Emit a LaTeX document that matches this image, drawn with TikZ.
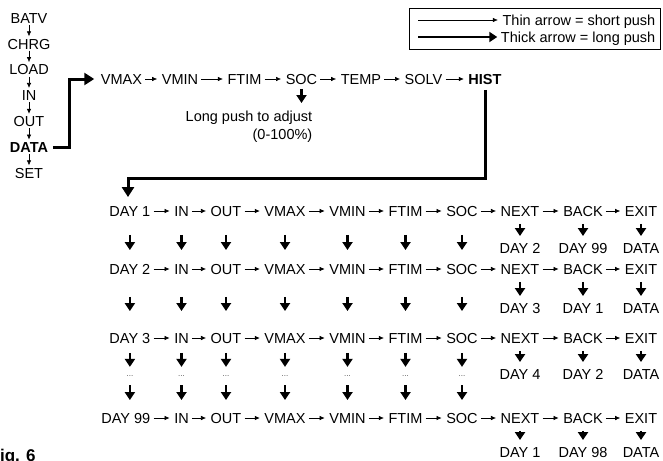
\documentclass[tikz,border=0pt]{standalone}
\usepackage{fontspec}
\setmainfont{Liberation Sans}
\usetikzlibrary{arrows.meta, positioning}

\tikzset{
  lbl/.style={inner sep=1.5pt, text height=10.5pt, text depth=0pt, font=\fontsize{14.5}{18}\selectfont},
  short/.style={-{Latex[length=5pt, width=4.5pt]}, line width=0.6pt, shorten <=1.5pt, shorten >=3pt},
  push/.style={-{Triangle[length=8pt, width=10pt]}, line width=2.6pt},
  long/.style={-{Triangle[length=10pt, width=12pt]}, line width=3pt},
}

\begin{document}
\begin{tikzpicture}[x=1pt, y=-1pt]
  \useasboundingbox (0,0) rectangle (663,460);

  % main menu
  \foreach \n/\txt [count=\i] in {batv/BATV, chrg/CHRG, load/LOAD, in/IN, out/OUT, data/\textbf{DATA}, set/SET}
    \node[lbl] (m-\n) at (29,{18+25.8*(\i-1)}) {\txt};
  \foreach \a/\b in {batv/chrg, chrg/load, load/in, in/out, out/data, data/set}
    \draw[short, shorten <=0pt, shorten >=0.5pt] (m-\a) -- (m-\b);

  % data menu
  \foreach \n/\txt/\x in {vmax/VMAX/121.5, vmin/VMIN/180, ftim/FTIM/244.5, soc/SOC/301.5, temp/TEMP/361, solv/SOLV/423.5, hist/\textbf{HIST}/485}
    \node[lbl] (\n0) at (\x,79) {\txt};
  \foreach \a/\b in {vmax/vmin, vmin/ftim, ftim/soc, soc/temp, temp/solv, solv/hist}
    \draw[short] (\a0) -- (\b0);
  \draw[long, shorten <=3pt, shorten >=5pt] (m-data.east) -- ++(20,0) |- (vmax0.west);

  \node[font=\fontsize{14.5}{18}\selectfont, inner sep=1.5pt, align=right, anchor=north east] (adjust) at (314,109) {Long push to adjust\\(0-100\%)};
  \draw[push, shorten <=3pt, shorten >=6pt] (soc0.south) -- (soc0.south |- adjust.north);

  % history rows
  \foreach \row/\y/\ty/\dy/\nx/\bk in {1/211/248/DAY 1/DAY 2/DAY 99, 2/269/308/DAY 2/DAY 3/DAY 1, 3/338/374/DAY 3/DAY 4/DAY 2, 4/418/452/DAY 99/DAY 1/DAY 98} {
    \node[lbl, anchor=east] (d\row) at (152,\y) {\dy};
    \foreach \col/\txt/\x in {in/IN/181.5, out/OUT/226, vmax/VMAX/285, vmin/VMIN/347.5, ftim/FTIM/405.5, soc/SOC/462, next/NEXT/520, back/BACK/583, exit/EXIT/641}
      \node[lbl] (\col\row) at (\x,\y) {\txt};
    \foreach \a/\b in {d/in, in/out, out/vmax, vmax/vmin, vmin/ftim, ftim/soc, soc/next, next/back, back/exit}
      \draw[short] (\a\row) -- (\b\row);
    \node[lbl] (tnext\row) at (520,\ty) {\nx};
    \node[lbl] (tback\row) at (583,\ty) {\bk};
    \node[lbl] (texit\row) at (641,\ty) {DATA};
    \foreach \col in {next, back, exit}
      \draw[push, shorten <=6pt, shorten >=5pt] (\col\row) -- (t\col\row);
  }

  \coordinate (dotline) at (0,376);
  \foreach \col in {d, in, out, vmax, vmin, ftim, soc} {
    \draw[push, shorten <=17pt, shorten >=12pt] (\col1) -- (\col2);
    \draw[push, shorten <=21pt, shorten >=20pt] (\col2) -- (\col3);
    \node[inner sep=0.5pt, text=black!70, font=\fontsize{8}{8}\selectfont] (\col-dot) at (\col3.center |- dotline) {...};
    \draw[push, shorten <=8pt, shorten >=8pt] (\col3) -- (\col-dot);
    \draw[push, shorten <=8pt, shorten >=11pt] (\col-dot) -- (\col-dot |- \col4.north);
  }

  % long push from HIST
  \coordinate (bend) at (128,178);
  \draw[long, shorten <=4pt, shorten >=7pt] (hist0.south) |- (bend) -- (bend |- d1.north);

  % legend
  \node[draw, line width=0.8pt, minimum width=251pt, minimum height=41pt, anchor=north east] (legend) at (661,8) {};
  \node[lbl, anchor=east] (thin) at (657,20) {Thin arrow = short push};
  \node[lbl, anchor=east] (thick) at (657,37) {Thick arrow = long push};
  \coordinate (thin-from) at (418,20);
  \coordinate (thick-from) at (418,37);
  \draw[short, shorten <=0pt] (thin-from) -- (thin);
  \draw[push, line width=2.2pt, shorten >=2pt] (thick-from) -- (thick);

  \node[font=\bfseries\fontsize{17}{20}\selectfont, anchor=north west, inner sep=0pt] (fig) at (-10.5,449) {Fig. 6};
\end{tikzpicture}
\end{document}
